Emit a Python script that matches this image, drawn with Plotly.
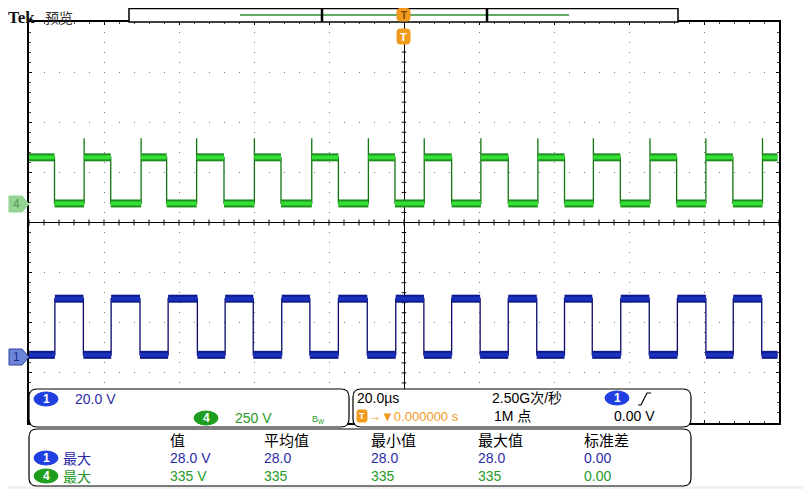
"""
    Tek scope screen grab (preview mode) redrawn with plotly
"""
import plotly.graph_objects as go

# screen: 10 div x 8 div, time in us, y in divisions
T_DIV = 20.0
X_RANGE = [-100.0, 100.0]
Y_RANGE = [-4.0, 4.0]

CH1_SCALE = 20.0     # V/div
CH4_SCALE = 250.0    # V/div
CH1_GROUND = -2.66   # div
CH4_GROUND = 0.34    # div

# channel 4 (green), edge times in us
ch4_fall = [-93.2, -78.2, -63.3, -48.0, -32.8, -17.5, -2.4, 12.7, 27.8, 42.8, 57.7, 72.7, 87.7]
ch4_rise = [-85.3, -70.1, -55.3, -39.9, -24.6, -9.5, 5.4, 20.5, 35.7, 50.5, 65.6, 80.5, 95.6]
ch4_high = 240.0
ch4_low = 10.0
ch4_peak = 335.0

# channel 1 (blue), edge times in us
ch1_rise = [-93.1, -78.1, -62.9, -47.7, -32.6, -17.5, -2.2, 12.7, 27.8, 42.8, 57.8, 72.9, 87.8]
ch1_fall = [-85.5, -70.4, -55.1, -40.2, -25.1, -9.8, 5.3, 20.3, 35.4, 50.2, 65.4, 80.5, 95.4]
ch1_high = 22.8
ch1_low = 0.4

rec_start, rec_end = -100.0, 99.6

# measurement table
meas_headers = ["值", "平均值", "最小值", "最大值", "标准差"]
meas_ch1 = ["28.0 V", "28.0", "28.0", "28.0", "0.00"]
meas_ch4 = ["335 V", "335", "335", "335", "0.00"]

BLUE_TXT = "#2b2ba6"
GREEN_TXT = "#279a27"
ORANGE = "#f29a1c"
FONT = "Liberation Sans, Noto Sans CJK SC"
CJK = "Noto Sans CJK SC"

# page body has an 8px margin, figure fills the rest of the window
OFF = 8
W, H = 811 - OFF, 489 - OFF
L, R, T, B = 29, 779, 22, 423


def px(x):
    return (x - L) / float(R - L)


def py(y):
    return (B - y) / float(B - T)


def square(rise, fall, high, low, scale, ground, peak=None):
    """ step trace and plateau segments (in divisions) from edge lists """
    events = sorted([(t, 1) for t in rise] + [(t, 0) for t in fall])
    level = low if events[0][1] == 1 else high
    xs, ys = [rec_start], [level]
    px_, py_ = [], []
    start = rec_start
    for t, up in events:
        px_ += [start, t, None]
        py_ += [level, level, None]
        xs.append(t)
        ys.append(level)
        if up and peak is not None:
            xs.append(t)
            ys.append(peak)
        level = high if up else low
        xs.append(t)
        ys.append(level)
        start = t
    px_ += [start, rec_end]
    py_ += [level, level]
    xs.append(rec_end)
    ys.append(level)
    to_div = lambda v: None if v is None else ground + v / scale
    return xs, [to_div(v) for v in ys], px_, [to_div(v) for v in py_]


data = []
for rise, fall, hi, lo, sc, gnd, pk, edge_c, outer_c, inner_c in [
        (ch4_rise, ch4_fall, ch4_high, ch4_low, CH4_SCALE, CH4_GROUND, ch4_peak,
         "#127512", "#1f8f1f", "#33e033"),
        (ch1_rise, ch1_fall, ch1_high, ch1_low, CH1_SCALE, CH1_GROUND, None,
         "#0a0a66", "#0d1a8c", "#1c30c0")]:
    sx, sy, plx, ply = square(rise, fall, hi, lo, sc, gnd, pk)
    data.append(go.Scatter(x=sx, y=sy, mode='lines', line=dict(color=edge_c, width=1.3)))
    data.append(go.Scatter(x=plx, y=ply, mode='lines', line=dict(color=outer_c, width=8)))
    data.append(go.Scatter(x=plx, y=ply, mode='lines', line=dict(color=inner_c, width=4)))

shapes = []
annotations = []


def rrect(x0, y0, x1, y1, r, fill='white', line='black', width=1.2, layer='above'):
    path = ("M {a},{b} L {c},{b} Q {d},{b} {d},{e} L {d},{f} Q {d},{g} {c},{g} "
            "L {a},{g} Q {h},{g} {h},{f} L {h},{e} Q {h},{b} {a},{b} Z").format(
                a=px(x0 + r), b=py(y0), c=px(x1 - r), d=px(x1), e=py(y0 + r),
                f=py(y1 - r), g=py(y1), h=px(x0))
    shapes.append(dict(type='path', path=path, xref='paper', yref='paper',
                       fillcolor=fill, line=dict(color=line, width=width), layer=layer))


def box(x0, y0, x1, y1, fill='white', line='black', width=1.2, layer='above'):
    shapes.append(dict(type='rect', xref='paper', yref='paper', x0=px(x0), x1=px(x1),
                       y0=py(y1), y1=py(y0), fillcolor=fill, layer=layer,
                       line=dict(color=line, width=width)))


def seg(x0, y0, x1, y1, color='black', width=1.0):
    shapes.append(dict(type='line', xref='paper', yref='paper', x0=px(x0), x1=px(x1),
                       y0=py(y0), y1=py(y1), line=dict(color=color, width=width), layer='above'))


def label(x, y, text, color='black', size=14, anchor='left', family=FONT):
    annotations.append(dict(x=px(x), y=py(y), xref='paper', yref='paper', text=text,
                            showarrow=False, xanchor=anchor, yanchor='middle', borderpad=0,
                            font=dict(family=family, size=size, color=color)))


def badge(xc, yc, text, fill):
    shapes.append(dict(type='circle', xref='paper', yref='paper', x0=px(xc - 12), x1=px(xc + 12),
                       y0=py(yc + 7), y1=py(yc - 7), fillcolor=fill,
                       line=dict(color=fill, width=1), layer='above'))
    label(xc, yc, "<b>%s</b>" % text, 'white', 12, 'center')


# page
box(8, 6, 807, 486, fill='white', line='white', width=0, layer='below')

# centre graticule ticks
for i in range(-20, 21):
    shapes.append(dict(type='line', xref='x', yref='y', x0=-0.6, x1=0.6, y0=i * 0.2, y1=i * 0.2,
                       line=dict(color='black', width=1), layer='below'))
for j in range(-25, 26):
    shapes.append(dict(type='line', xref='x', yref='y', x0=j * 4, x1=j * 4, y0=-0.06, y1=0.06,
                       line=dict(color='black', width=1), layer='below'))

# header: record view bar
label(7, 17, "<b>Tek</b>", '#111', 17, family="Liberation Serif")
label(44, 17, "预览", '#333', 14, family=CJK)
box(129, 8.5, 678, 22, width=1.5)
seg(240, 15, 569, 15, '#2f8f2f', 1.5)
seg(322, 9, 322, 22, 'black', 2.5)
seg(487, 9, 487, 22, 'black', 2.5)
rrect(397, 8.5, 410, 21, 3, fill=ORANGE, line=ORANGE, width=1)
label(403.5, 15, "<b>T</b>", '#7a4a00', 10, 'center')
rrect(397, 29, 410, 44, 3, fill=ORANGE, line=ORANGE, width=1)
label(403.5, 37, "<b>T</b>", 'white', 11, 'center')

# channel ground markers
for yc, fill, edge, txtc, txt in [(204, '#93d493', '#93d493', '#5a9a5a', '4'),
                                  (357, '#6c84d8', '#3040a0', '#1a2a8a', '1')]:
    path = "M {a},{t} L {b},{t} L {c},{m} L {b},{u} L {a},{u} Z".format(
        a=px(9), b=px(22), c=px(29), t=py(yc - 8), m=py(yc), u=py(yc + 8))
    shapes.append(dict(type='path', path=path, xref='paper', yref='paper', fillcolor=fill,
                       line=dict(color=edge, width=1), layer='above'))
    label(16, yc, txt, txtc, 12, 'center')

# vertical readout panel
rrect(29, 389, 349, 427, 8)
badge(46, 399, "1", '#1f3fe0')
label(74, 399, "20.0 V", BLUE_TXT, 14)
badge(206, 418, "4", '#1e9e1e')
label(234, 418, "250 V", GREEN_TXT, 14)
label(311, 419, "B<sub>W</sub>", GREEN_TXT, 9)

# horizontal / trigger panel
rrect(353, 389, 691, 427, 8)
label(356, 398, "20.0µs", 'black', 14)
rrect(357, 410, 367, 422, 2, fill=ORANGE, line=ORANGE, width=1)
label(362, 416, "<b>T</b>", 'white', 9, 'center')
label(367, 416, "→▼0.000000 s", ORANGE, 13)
label(491, 398, "2.50G次/秒", 'black', 14)
label(493, 416, "1M 点", 'black', 14)
badge(617, 398, "1", '#1f3fe0')
shapes.append(dict(type='path', xref='paper', yref='paper', layer='above',
                   path="M {a},{y0} L {b},{y0} L {c},{y1} L {d},{y1}".format(
                       a=px(638), b=px(641), c=px(647), d=px(651), y0=py(405), y1=py(393)),
                   line=dict(color='black', width=1.2)))
label(613, 416, "0.00 V", 'black', 14)

# measurement panel
rrect(29, 429, 691, 486, 8)
cols = [169, 263, 370, 477, 583]
for xc, head in zip(cols, meas_headers):
    label(xc, 439, head, 'black', 15, family=CJK)
for yc, row, col, fill, ch in [(458, meas_ch1, BLUE_TXT, '#1f3fe0', '1'),
                               (476, meas_ch4, GREEN_TXT, '#1e9e1e', '4')]:
    badge(46, yc, ch, fill)
    label(62, yc, "最大", col, 14, family=CJK)
    for xc, val in zip(cols, row):
        label(xc, yc, val, col, 14)

axis_common = dict(showticklabels=False, showline=True, linecolor='black', linewidth=2,
                   mirror='ticks', ticks='inside', ticklen=3, tickcolor='black',
                   zeroline=True, zerolinecolor='black', zerolinewidth=1, fixedrange=True)

layout = go.Layout(
    width=W, height=H,
    margin=dict(l=L - OFF, r=W + OFF - R, t=T - OFF, b=H + OFF - B),
    paper_bgcolor='#f0f0f0',
    plot_bgcolor='white',
    showlegend=False,
    hovermode=False,
    xaxis=dict(range=X_RANGE, dtick=T_DIV, gridcolor='#777', griddash='1px,9px', gridwidth=1,
               minor=dict(dtick=T_DIV / 5, ticks='inside', ticklen=2, tickcolor='#444'),
               **axis_common),
    yaxis=dict(range=Y_RANGE, dtick=1, gridcolor='#777', griddash='1px,14px', gridwidth=1,
               minor=dict(dtick=0.2, ticks='inside', ticklen=2, tickcolor='#444'),
               **axis_common),
    shapes=shapes,
    annotations=annotations,
)

fig = go.Figure(data=data, layout=layout)
fig.write_html("out.html")
